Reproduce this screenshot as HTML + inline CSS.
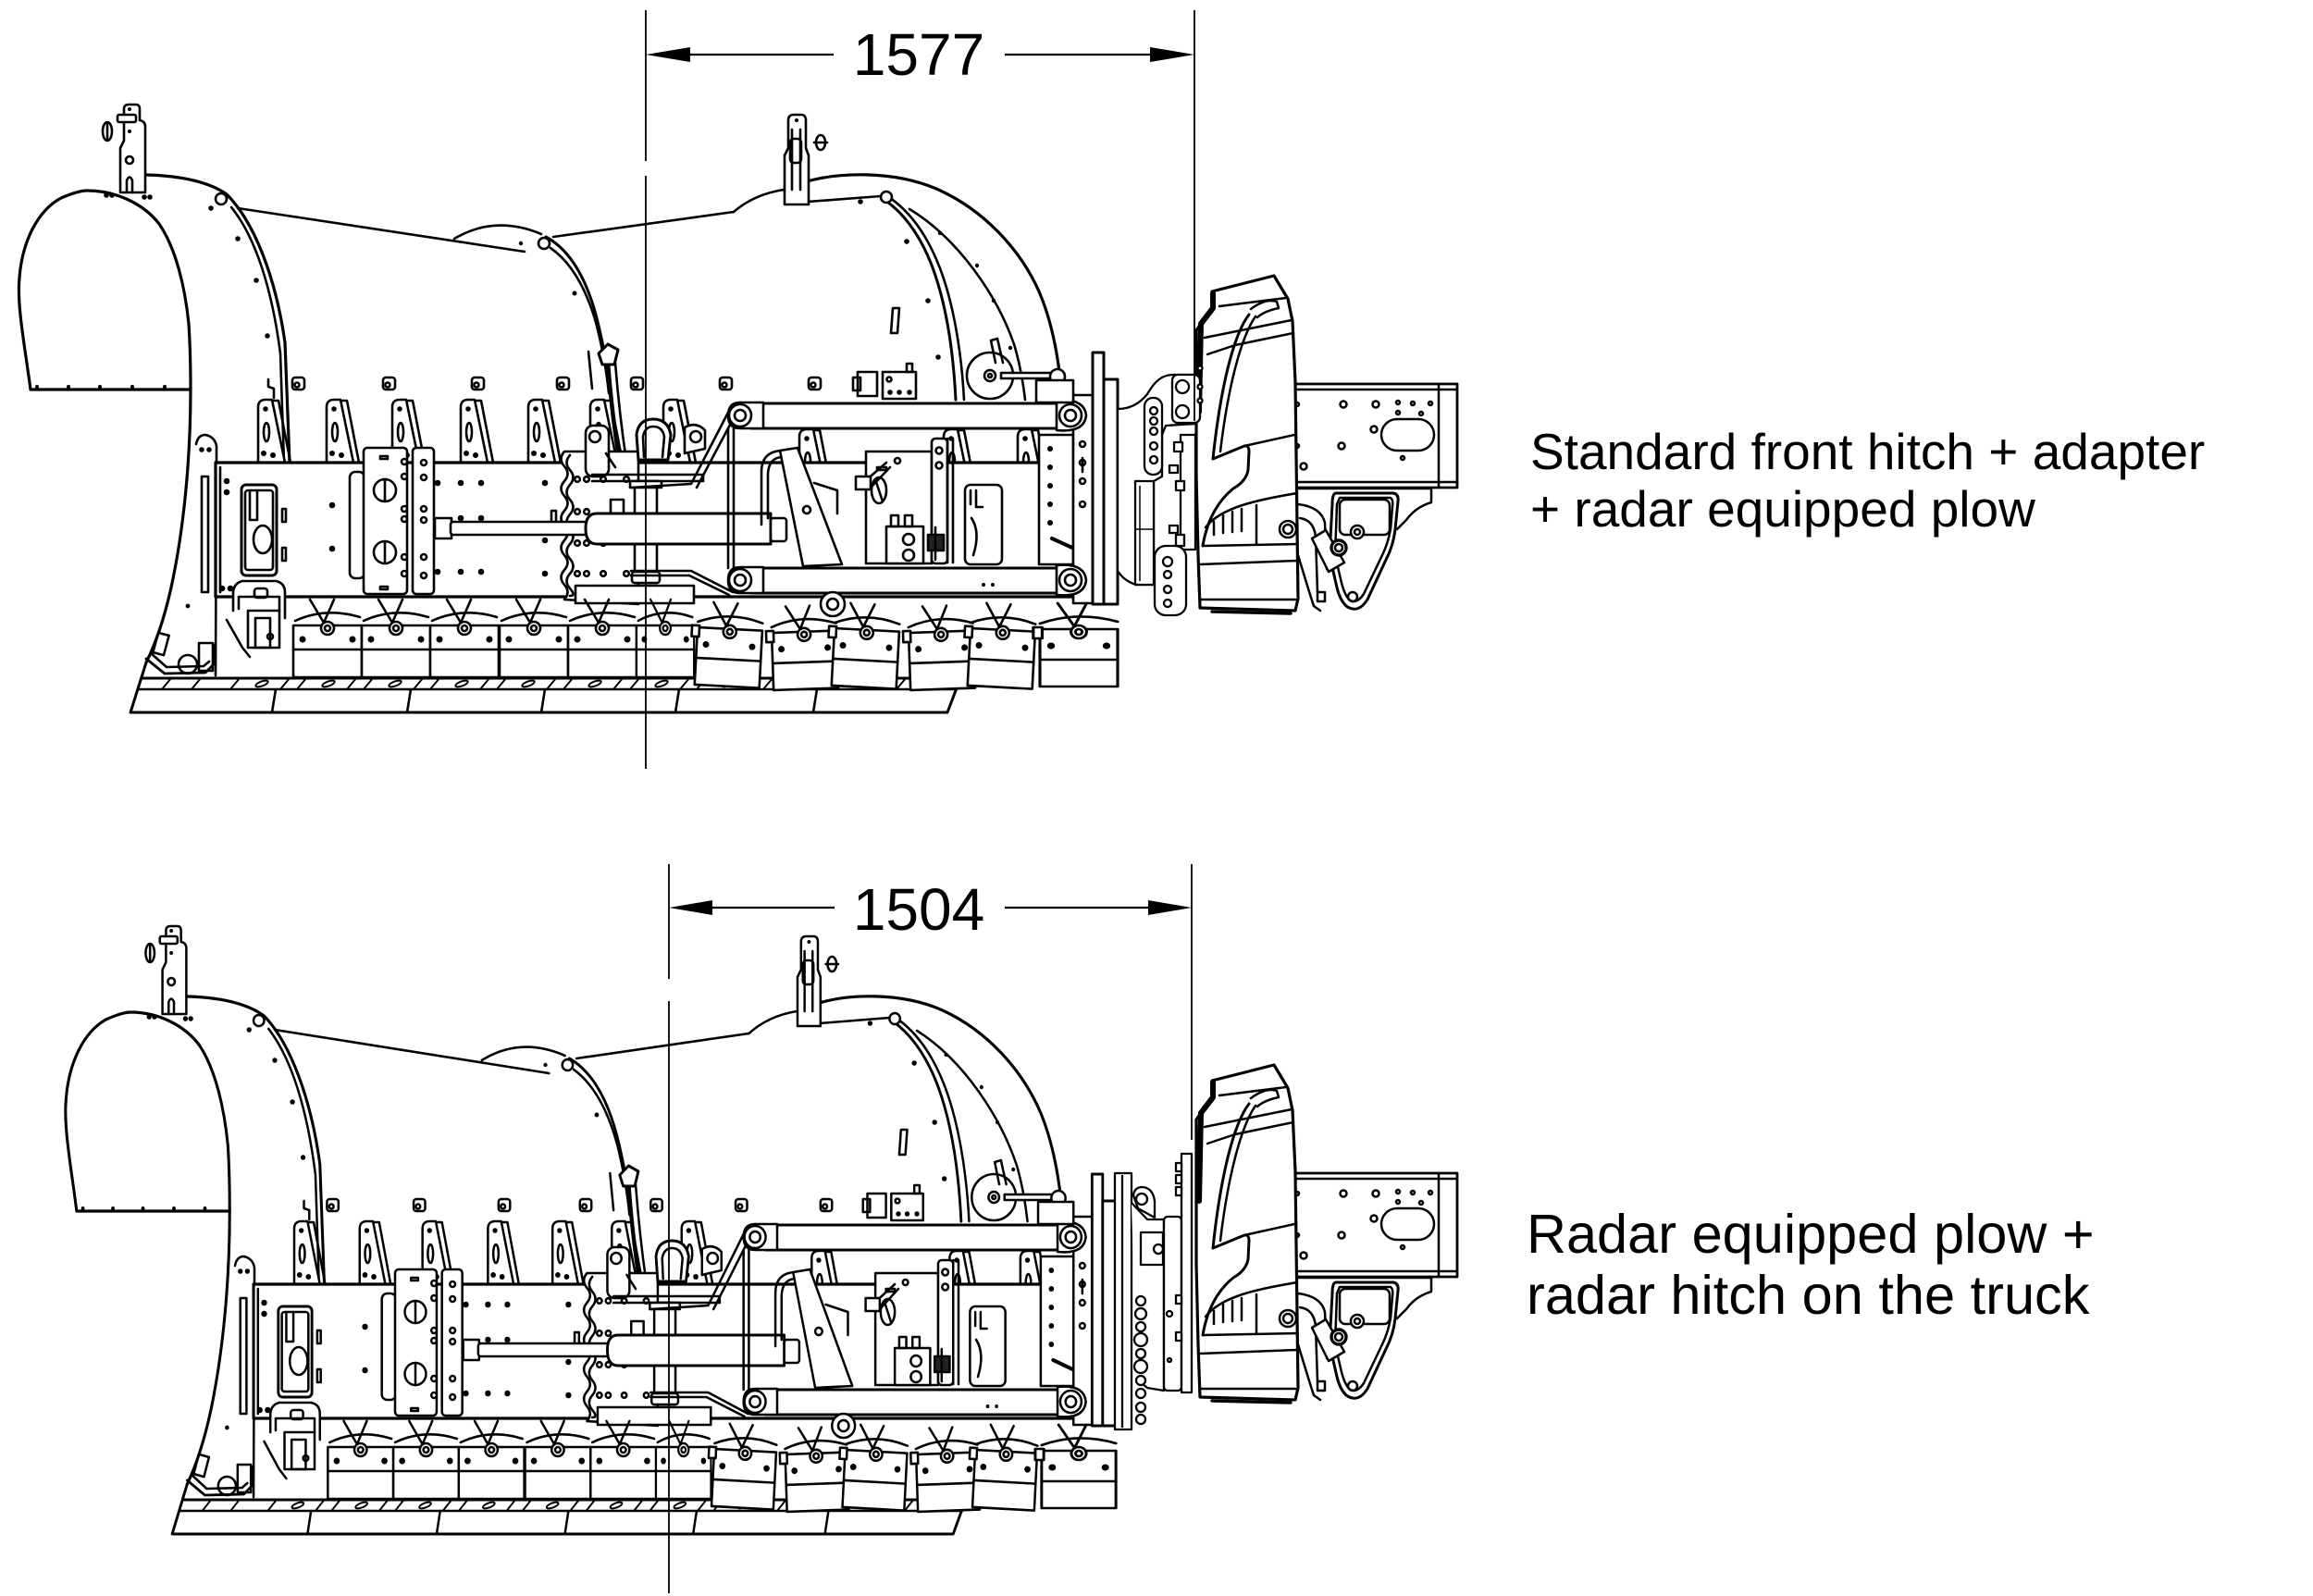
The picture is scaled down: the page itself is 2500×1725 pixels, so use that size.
<!DOCTYPE html>
<html><head><meta charset="utf-8"><style>
html,body{margin:0;padding:0;background:#fff;}
body{width:2500px;height:1725px;overflow:hidden;}
svg{display:block;}
</style></head><body>
<svg width="2500" height="1725" viewBox="0 0 2500 1725" xmlns="http://www.w3.org/2000/svg">
<rect width="2500" height="1725" fill="#fff"/>
<defs>
<g id="gus">
 <path d="M0,68 L0,8 Q0,0 8,0 L15,0 L29,68" fill="#fff"/>
 <path d="M17,1 L22,1 L35,68"/>
 <ellipse cx="9" cy="35" rx="3" ry="10"/>
 <circle cx="8" cy="10" r="2.8" fill="#000" stroke="none"/>
 <circle cx="6" cy="58" r="3" fill="#000" stroke="none"/>
 <circle cx="16" cy="60" r="3" fill="#000" stroke="none"/>
</g>
<g id="tab">
 <rect x="0" y="0" width="13" height="13" rx="3" fill="#fff"/>
 <circle cx="5" cy="8" r="2.5"/>
</g>
<g id="shoe">
 <path d="M18,-28 L33,-3 L44,-28"/>
 <path d="M2,-5 Q35,-20 72,-9"/>
 <rect x="0" y="0" width="74" height="56" fill="#fff"/>
 <line x1="0" y1="26" x2="74" y2="26"/>
 <circle cx="37" cy="3" r="7" fill="#fff"/>
 <circle cx="37" cy="3" r="3"/>
 <circle cx="10" cy="15" r="3.5" fill="#000" stroke="none"/>
 <circle cx="64" cy="15" r="3.5" fill="#000" stroke="none"/>
</g>
<g id="shoeT">
 <path d="M16,-28 L31,-3 L42,-28"/>
 <path d="M0,-6 Q34,-20 70,-8"/>
 <rect x="0" y="0" width="70" height="62" fill="#fff"/>
 <line x1="0" y1="33" x2="70" y2="33"/>
 <rect x="-6" y="-2" width="8" height="12" fill="#fff"/>
 <circle cx="35" cy="3" r="7" fill="#fff"/>
 <circle cx="35" cy="3" r="3"/>
 <circle cx="10" cy="18" r="3.5" fill="#000" stroke="none"/>
 <circle cx="60" cy="18" r="3.5" fill="#000" stroke="none"/>
</g>

<g id="plow" fill="none" stroke="#000" stroke-width="2.6" stroke-linejoin="round" stroke-linecap="round">
 <!-- right shell back arcs -->
 <path d="M869,197 C905,186 965,184 1012,204 C1062,226 1102,268 1123,315 C1138,350 1145,390 1148,432" stroke-width="3.2"/>
 <path d="M983,226 C1036,258 1078,320 1096,372 C1103,395 1106,415 1108,432"/>
 <path d="M953,214 C975,228 993,252 1006,284 C1021,322 1030,372 1033,432" stroke-width="3"/>
 <path d="M962,214 C985,230 1003,256 1016,290 C1030,327 1039,377 1042,432"/>
 <path d="M873,218 L952,212"/>
 <circle cx="958" cy="213" r="6" fill="#fff"/>
 <g fill="#000" stroke="none">
  <circle cx="930" cy="218" r="2.8"/><circle cx="980" cy="261" r="2.8"/><circle cx="1003" cy="325" r="2.8"/>
  <circle cx="1014" cy="386" r="2.8"/><circle cx="1016" cy="252" r="2.2"/><circle cx="1056" cy="287" r="2.2"/>
  <circle cx="1074" cy="325" r="2.2"/><circle cx="1092" cy="376" r="2.2"/>
 </g>
 <!-- top edges & humps -->
 <path d="M257,225 L567,272"/>
 <path d="M598,256 L793,229"/>
 <path d="M793,229 Q815,210 847,205"/>
 <path d="M491,258 Q535,232 585,253"/>
 <!-- middle rib -->
 <path d="M590,256 C616,270 633,300 644,340 C654,378 659,412 662,440" stroke-width="3"/>
 <path d="M595,268 C618,284 634,312 645,352 C652,380 656,405 658,425"/>
 <circle cx="588" cy="263" r="6" fill="#fff"/>
 <circle cx="563" cy="263" r="2.2" fill="#000" stroke="none"/>
 <circle cx="621" cy="317" r="2.5" fill="#000" stroke="none"/>
 <path d="M636,380 L640,420"/>
 <path d="M657,392 C660,430 664,465 670,500" stroke-width="4.5"/>
 <path d="M665,392 C668,430 672,465 677,498"/>
 <path d="M647,382 L657,372 L668,378 L664,394 L651,394 Z" fill="#fff" stroke-width="3"/>
 <!-- left shell rib -->
 <path d="M158,189 C195,190 225,196 245,210 C275,240 298,300 308,370 L313,500" stroke-width="3.2"/>
 <path d="M250,224 C276,256 294,312 303,382 L307,500"/>
 <circle cx="239" cy="215" r="6" fill="#fff"/>
 <g fill="#000" stroke="none">
  <circle cx="228" cy="225" r="2.8"/><circle cx="257" cy="258" r="2.8"/><circle cx="277" cy="303" r="2.8"/><circle cx="289" cy="363" r="2.8"/>
 </g>
 <path d="M290,410 L290,418 L296,420 L296,430"/>
 <!-- cap -->
 <path d="M33,421 C27,375 18,330 21,300 C24,262 40,228 66,214 C80,208 88,206 94,206 C125,206 155,220 172,242 C190,268 200,310 204,350 C206,380 206,405 206,421 Z" fill="#fff" stroke-width="3.2"/>
 <g fill="#000" stroke="none">
  <circle cx="40" cy="418" r="2"/><circle cx="74" cy="418" r="2"/><circle cx="108" cy="418" r="2"/><circle cx="143" cy="418" r="2"/><circle cx="178" cy="418" r="2"/>
 </g>
 <!-- left hitch -->
 <path d="M130,208 L130,160 L134,152 L134,118 Q134,113 139,113 L147,113 Q151,113 151,118 L151,130 Q157,131 157,137 L157,208 Z" fill="#fff"/>
 <path d="M137,208 L137,195 Q140,188 143,195 L143,208"/>
 <circle cx="140" cy="173" r="4"/>
 <rect x="127" y="124" width="20" height="8" rx="2" fill="#fff"/>
 <circle cx="140" cy="118" r="2" fill="#000" stroke="none"/><circle cx="140" cy="142" r="2" fill="#000" stroke="none"/>
 <ellipse cx="116" cy="142" rx="5" ry="10"/><line x1="116" y1="134" x2="116" y2="150"/>
 <g fill="#000" stroke="none"><circle cx="115" cy="211" r="2.8"/><circle cx="121" cy="211" r="2.8"/><circle cx="156" cy="213" r="2.8"/><circle cx="162" cy="213" r="2.8"/></g>
 <!-- right hitch -->
 <path d="M848,221 L848,168 L852,160 L852,130 Q852,124 858,124 L866,124 Q871,124 871,130 L871,160 L874,168 L874,221 Z" fill="#fff"/>
 <path d="M856,140 L856,205 M865,140 L865,205"/>
 <rect x="854" y="150" width="12" height="26" rx="4"/>
 <circle cx="861" cy="130" r="2" fill="#000" stroke="none"/>
 <ellipse cx="887" cy="154" rx="5" ry="8"/><line x1="880" y1="154" x2="894" y2="154"/>
 <!-- small tabs -->
 <use href="#tab" x="316" y="408"/><use href="#tab" x="414" y="408"/><use href="#tab" x="510" y="408"/>
 <use href="#tab" x="602" y="408"/><use href="#tab" x="682" y="408"/><use href="#tab" x="778" y="408"/><use href="#tab" x="874" y="408"/>
 <!-- gussets -->
 <use href="#gus" x="279" y="432"/><use href="#gus" x="353" y="432"/><use href="#gus" x="424" y="432"/>
 <use href="#gus" x="498" y="432"/><use href="#gus" x="571" y="432"/><use href="#gus" x="638" y="432"/><use href="#gus" x="717" y="432"/>
 <use href="#gus" x="864" y="464"/><use href="#gus" x="1020" y="464"/><use href="#gus" x="1100" y="464"/>
 <!-- end plate -->
 <path d="M212,480 Q214,470 222,470 Q232,472 234,482 L234,500 L233,730" fill="#fff"/>
 <path d="M206,421 C206,500 198,575 185,635 C176,675 166,700 158,716" stroke-width="3.2"/>
 <rect x="218" y="515" width="7" height="125"/>
 <g fill="#000" stroke="none"><circle cx="218" cy="486" r="2.8"/><circle cx="226" cy="486" r="2.8"/><circle cx="203" cy="655" r="2.4"/></g>
 <!-- main box -->
 <rect x="233" y="500" width="935" height="145" fill="#fff" stroke-width="3.2"/>
 <line x1="238" y1="505" x2="238" y2="640"/>
 <g fill="#000" stroke="none">
  <circle cx="245" cy="520" r="3.3"/><circle cx="245" cy="532" r="3.3"/><circle cx="359" cy="546" r="3.3"/><circle cx="359" cy="593" r="3.3"/>
  <circle cx="473" cy="522" r="3.3"/><circle cx="498" cy="522" r="3.3"/><circle cx="520" cy="522" r="3.3"/>
  <circle cx="498" cy="560" r="3.3"/><circle cx="520" cy="560" r="3.3"/>
  <circle cx="473" cy="618" r="3.3"/><circle cx="498" cy="618" r="3.3"/><circle cx="520" cy="618" r="3.3"/>
  <circle cx="589" cy="522" r="3.3"/><circle cx="589" cy="584" r="3.3"/><circle cx="589" cy="620" r="3.3"/>
  <circle cx="240" cy="636" r="3.3"/><circle cx="249" cy="636" r="3.3"/>
 </g>
 <!-- left panel -->
 <rect x="261" y="524" width="38" height="98" rx="5" fill="#fff" stroke-width="3"/>
 <rect x="265" y="530" width="30" height="86" rx="3"/>
 <path d="M270,532 L270,562 L278,562 L278,532"/>
 <ellipse cx="284" cy="583" rx="10" ry="15"/>
 <rect x="305" y="550" width="4" height="14"/><rect x="305" y="592" width="4" height="14"/>
 <!-- middle plate -->
 <rect x="378" y="510" width="16" height="115" rx="6" fill="#fff"/>
 <rect x="393" y="484" width="47" height="158" rx="4" fill="#fff"/>
 <rect x="446" y="484" width="23" height="158" rx="4" fill="#fff"/>
 <circle cx="416" cy="530" r="12"/><line x1="416" y1="518" x2="416" y2="542"/>
 <circle cx="416" cy="597" r="12"/><line x1="416" y1="585" x2="416" y2="609"/>
 <rect x="411" y="493" width="8" height="3"/><rect x="411" y="634" width="8" height="3"/>
 <g fill="#fff">
  <circle cx="437" cy="499" r="3"/><circle cx="437" cy="515" r="3"/><circle cx="437" cy="550" r="3"/><circle cx="437" cy="561" r="3"/>
  <circle cx="437" cy="602" r="3"/><circle cx="437" cy="620" r="3"/>
  <circle cx="458" cy="500" r="3"/><circle cx="458" cy="516" r="3"/><circle cx="458" cy="550" r="3"/><circle cx="458" cy="562" r="3"/>
  <circle cx="458" cy="602" r="3"/><circle cx="458" cy="622" r="3"/>
 </g>
 <!-- wavy plate -->
 <path d="M610,488 q-7,8 0,16 q7,8 0,16 q-7,8 0,16 q7,8 0,16 q-7,8 0,16 q7,8 0,16 q-7,8 0,16 q7,8 0,16 q-7,8 0,16 q7,8 0,16 L690,653 L690,488 Z" fill="#fff"/>
 <path d="M616,492 q-7,8 0,16 q7,8 0,16 q-7,8 0,16 q7,8 0,16 q-7,8 0,16 q7,8 0,16 q-7,8 0,16 q7,8 0,16 q-7,8 0,16 q7,8 0,8"/>
 <g fill="#fff">
  <circle cx="624" cy="518" r="2.8"/><circle cx="634" cy="518" r="2.8"/><circle cx="652" cy="518" r="2.8"/><circle cx="677" cy="518" r="2.8"/>
  <circle cx="624" cy="553" r="2.8"/><circle cx="634" cy="553" r="2.8"/>
  <circle cx="624" cy="587" r="2.8"/><circle cx="634" cy="587" r="2.8"/><circle cx="652" cy="587" r="2.8"/>
  <circle cx="624" cy="620" r="2.8"/><circle cx="634" cy="620" r="2.8"/><circle cx="652" cy="620" r="2.8"/><circle cx="677" cy="620" r="2.8"/>
 </g>
 <rect x="596" y="552" width="5" height="16"/>
 <!-- mushroom hitch & ears -->
 <rect x="633" y="460" width="25" height="55" rx="8" fill="#fff"/><circle cx="643" cy="472" r="6"/>
 <path d="M690,497 L688,470 Q690,453 706,453 Q722,453 725,470 L722,497 Z" fill="#fff" stroke-width="3"/>
 <path d="M696,494 L695,472 Q697,461 706,461 Q716,461 718,472 L716,494"/>
 <path d="M740,462 Q752,455 762,465 L762,485 L740,490 Z" fill="#fff"/><circle cx="752" cy="472" r="6"/>
 <path d="M655,490 L665,505"/>
 <path d="M640,513 L760,513 L760,520 L640,520"/>
 <!-- pin, rod, cylinder -->
 <rect x="686" y="520" width="24" height="110" fill="#fff"/>
 <rect x="681" y="520" width="34" height="7" fill="#fff"/>
 <rect x="470" y="560" width="18" height="22" fill="#fff"/>
 <rect x="487" y="564" width="156" height="14" rx="3" fill="#fff"/>
 <path d="M645,555 L833,555 L833,588 L645,588 Q633,588 633,571 Q633,555 645,555 Z" fill="#fff" stroke-width="3"/>
 <rect x="833" y="560" width="17" height="25" rx="3" fill="#fff"/>
 <rect x="683" y="618" width="30" height="12" rx="3" fill="#fff"/>
 <rect x="622" y="633" width="128" height="19" fill="#fff"/>
 <rect x="660" y="540" width="14" height="15"/>
 <!-- A-frame links -->
 <path d="M790,440 L747,523 L682,527"/>
 <path d="M797,444 L753,527"/>
 <path d="M682,617 L747,617 L792,640"/>
 <path d="M682,622 L745,622 L788,643"/>
 <line x1="787" y1="463" x2="787" y2="614"/><line x1="793" y1="463" x2="793" y2="614"/>
 <!-- components between arms -->
 <rect x="936" y="488" width="71" height="121" fill="#fff"/>
 <ellipse cx="950" cy="530" rx="8" ry="14"/><line x1="946" y1="518" x2="954" y2="542"/>
 <circle cx="970" cy="498" r="3"/><rect x="948" y="505" width="10" height="3"/>
 <rect x="1007" y="474" width="17" height="135" rx="4" fill="#fff"/>
 <circle cx="1015" cy="487" r="3.5"/><circle cx="1015" cy="503" r="3.5"/>
 <rect x="1043" y="524" width="40" height="86" rx="6" fill="#fff"/>
 <path d="M1049,530 L1049,545 M1055,530 L1055,548 L1062,548"/>
 <path d="M1050,560 Q1060,575 1052,600"/>
 <rect x="958" y="569" width="40" height="40" fill="#fff"/>
 <circle cx="982" cy="583" r="6"/><circle cx="982" cy="600" r="6"/>
 <rect x="963" y="557" width="8" height="12"/><rect x="978" y="557" width="8" height="12"/>
 <rect x="1003" y="578" width="17" height="17" fill="#222"/>
 <line x1="1011" y1="570" x2="1011" y2="605"/>
 <path d="M935,520 L958,500 M940,528 L962,505"/>
 <rect x="925" y="515" width="16" height="14" fill="#fff"/>
 <path d="M1024,474 L1024,608 M1030,474 L1030,608"/>
 <rect x="1123" y="470" width="37" height="140" fill="#fff"/>
 <g fill="#000" stroke="none"><circle cx="1135" cy="485" r="3"/><circle cx="1135" cy="505" r="3"/><circle cx="1135" cy="525" r="3"/><circle cx="1135" cy="545" r="3"/><circle cx="1135" cy="565" r="3"/></g>
 <line x1="1137" y1="582" x2="1159" y2="592" stroke-width="4"/>
 <path d="M823,567 L823,510 Q823,488 845,487"/>
 <path d="M830,560 L830,512 Q831,495 845,494"/>
 <polygon points="843,487 862,484 910,610 868,612" fill="#fff"/>
 <circle cx="872" cy="551" r="4"/>
 <path d="M880,522 L905,530 L905,555" />
 <!-- right vertical plates -->
 <rect x="1160" y="427" width="22" height="225" fill="#fff"/>
 <rect x="1181" y="381" width="12" height="272" fill="#fff" stroke-width="3"/>
 <rect x="1193" y="410" width="15" height="243" fill="#fff" stroke-width="3"/>
 <g fill="#fff"><circle cx="1170" cy="480" r="3"/><circle cx="1170" cy="500" r="3"/><circle cx="1170" cy="520" r="3"/><circle cx="1170" cy="545" r="3"/></g>
 <line x1="1170" y1="495" x2="1170" y2="510"/>
 <!-- A-frame arms -->
 <rect x="812" y="436" width="340" height="27" fill="#fff" stroke-width="3"/>
 <path d="M825,435 L800,435 Q787,435 787,449 Q787,463 800,463 L825,463 Z" fill="#fff"/>
 <circle cx="800" cy="449" r="12"/><circle cx="800" cy="449" r="6"/>
 <path d="M1142,433 Q1172,430 1174,449 Q1172,468 1142,465 Z" fill="#fff"/>
 <circle cx="1157" cy="449" r="12"/><circle cx="1157" cy="449" r="6"/>
 <rect x="812" y="614" width="340" height="27" fill="#fff" stroke-width="3"/>
 <path d="M825,613 L800,613 Q787,613 787,627 Q787,641 800,641 L825,641 Z" fill="#fff"/>
 <circle cx="800" cy="627" r="12"/><circle cx="800" cy="627" r="6"/>
 <path d="M1142,611 Q1172,608 1174,627 Q1172,646 1142,643 Z" fill="#fff"/>
 <circle cx="1157" cy="627" r="12"/><circle cx="1157" cy="627" r="6"/>
 <g fill="#000" stroke="none"><circle cx="1063" cy="632" r="2"/><circle cx="1073" cy="632" r="2"/></g>
 <!-- upper components -->
 <rect x="954" y="402" width="36" height="29" fill="#fff"/>
 <g fill="#000" stroke="none"><circle cx="962" cy="424" r="2.8"/><circle cx="972" cy="424" r="2.8"/><circle cx="983" cy="424" r="2.8"/></g>
 <circle cx="961" cy="410" r="2.5"/>
 <rect x="980" y="393" width="6" height="9"/>
 <path d="M927,402 L948,402 L948,428 L927,428 Z" fill="#fff"/><rect x="922" y="408" width="8" height="14"/>
 <circle cx="1070" cy="406" r="25" fill="#fff"/><circle cx="1070" cy="406" r="6"/><circle cx="1070" cy="406" r="2"/>
 <path d="M1076,392 L1071,368 L1078,366 L1084,392"/>
 <rect x="1082" y="403" width="55" height="6" fill="#fff"/>
 <circle cx="1143" cy="407" r="8" fill="#fff"/>
 <path d="M965,333 L972,333 L970,360 L963,360 Z" fill="#fff"/>
 <rect x="1120" y="411" width="40" height="24" fill="#fff"/>
 <!-- left lower bracket area -->
 <path d="M252,660 L252,640 Q253,630 262,628 L298,628 Q308,630 308,640 L308,668" fill="#fff"/>
 <path d="M258,658 L258,645 L302,645 L302,660"/>
 <rect x="275" y="636" width="14" height="10" rx="3"/>
 <rect x="268" y="660" width="34" height="40" fill="#fff"/><rect x="276" y="668" width="16" height="32"/>
 <path d="M245,670 L262,700 L270,710"/>
 <circle cx="292" cy="688" r="3"/>
 <circle cx="203" cy="718" r="10" fill="#fff"/>
 <path d="M158,712 L178,728 L222,727 L231,718 L231,697" fill="none" stroke-width="2.8"/>
 <path d="M163,706 L180,721 L220,720 L226,715"/>
 <rect x="168" y="685" width="12" height="22" transform="rotate(15 174 696)"/>
 <rect x="215" y="695" width="15" height="30"/>
 <!-- roller -->
 <circle cx="900" cy="653" r="13" fill="#fff"/><circle cx="900" cy="653" r="6"/>
 <!-- blade -->
 <path d="M158,716 L141,770 L1024,770 L1038,733 L154,733" fill="#fff" stroke-width="3"/>
 <line x1="150" y1="745" x2="1034" y2="745"/>
 <path d="M175,745 l10,-12 M207,745 l10,-12 M249,745 l10,-12 M303,745 l10,-12 M321,745 l10,-12 M375,745 l10,-12 M393,745 l10,-12 M447,745 l10,-12 M465,745 l10,-12 M519,745 l10,-12 M537,745 l10,-12 M591,745 l10,-12 M609,745 l10,-12 M663,745 l10,-12 M681,745 l10,-12 M735,745 l10,-12 M753,745 l10,-12 M807,745 l10,-12 M825,745 l10,-12 M879,745 l10,-12 M897,745 l10,-12 M951,745 l10,-12 M969,745 l10,-12" stroke-width="2"/>
 <g stroke-width="2">
  <ellipse cx="283" cy="739" rx="7" ry="2.5" transform="rotate(-20 283 739)"/>
  <ellipse cx="355" cy="739" rx="7" ry="2.5" transform="rotate(-20 355 739)"/>
  <ellipse cx="427" cy="739" rx="7" ry="2.5" transform="rotate(-20 427 739)"/>
  <ellipse cx="499" cy="739" rx="7" ry="2.5" transform="rotate(-20 499 739)"/>
  <ellipse cx="571" cy="739" rx="7" ry="2.5" transform="rotate(-20 571 739)"/>
  <ellipse cx="643" cy="739" rx="7" ry="2.5" transform="rotate(-20 643 739)"/>
  <ellipse cx="715" cy="739" rx="7" ry="2.5" transform="rotate(-20 715 739)"/>
  <ellipse cx="787" cy="739" rx="7" ry="2.5" transform="rotate(-20 787 739)"/>
  <ellipse cx="859" cy="739" rx="7" ry="2.5" transform="rotate(-20 859 739)"/>
 </g>
 <path d="M298,745 L294,770 M444,745 L440,770 M589,745 L585,770 M734,745 L730,770 M883,745 L879,770"/>
 <!-- shoes -->
 <use href="#shoe" transform="translate(317,676)"/>
 <use href="#shoe" transform="translate(391,676)"/>
 <use href="#shoe" transform="translate(465,676)"/>
 <use href="#shoe" transform="translate(540,676)"/>
 <use href="#shoe" transform="translate(614,676)"/>
 <use href="#shoe" transform="translate(688,676) scale(0.84,1)"/>
 <use href="#shoeT" transform="translate(754,678) rotate(3)"/>
 <use href="#shoeT" transform="translate(834,684) rotate(-2)"/>
 <use href="#shoeT" transform="translate(902,679) rotate(3)"/>
 <use href="#shoeT" transform="translate(982,684) rotate(-2)"/>
 <use href="#shoeT" transform="translate(1049,679) rotate(3)"/>
 <use href="#shoeT" transform="translate(1124,680) scale(1.2,1)"/>
</g>

<g id="truck" fill="none" stroke="#000" stroke-width="2.5" stroke-linejoin="round" stroke-linecap="round">
 <!-- frame rail -->
 <rect x="1400" y="415" width="175" height="112" fill="#fff" stroke-width="2.8"/>
 <line x1="1400" y1="421" x2="1575" y2="421"/>
 <line x1="1400" y1="521" x2="1575" y2="521"/>
 <line x1="1555" y1="415" x2="1555" y2="527"/>
 <rect x="1493" y="453" width="57" height="34" rx="17"/>
 <circle cx="1452" cy="437" r="3.5"/><circle cx="1487" cy="437" r="3.5"/>
 <circle cx="1511" cy="435" r="2"/><circle cx="1527" cy="436" r="2"/><circle cx="1546" cy="436" r="2"/>
 <circle cx="1511" cy="446" r="2"/><circle cx="1536" cy="447" r="2"/>
 <circle cx="1485" cy="464" r="3.5"/><circle cx="1450" cy="482" r="3.5"/><circle cx="1409" cy="504" r="3.5"/>
 <circle cx="1516" cy="495" r="2"/><circle cx="1402" cy="437" r="2"/><circle cx="1402" cy="482" r="2"/>
 <!-- under frame -->
 <path d="M1403,528 L1547,528 L1547,543 Q1530,548 1520,562 L1510,572" fill="#fff"/>
 <path d="M1403,545 Q1428,548 1432,565 L1434,615"/>
 <path d="M1405,560 Q1420,562 1422,580 L1424,640"/>
 <path d="M1444,533 L1506,533 Q1512,534 1511,542 L1508,572 Q1506,590 1498,605 L1478,648 Q1468,664 1455,655 Q1448,648 1445,635 L1437,600 L1440,545 Q1440,533 1444,533 Z" fill="#fff" stroke-width="3"/>
 <path d="M1448,538 L1503,538 Q1506,540 1505,548 L1503,572 Q1500,588 1494,600 L1474,642 Q1466,654 1458,648 Q1453,642 1450,630 L1443,600 L1445,545 Z"/>
 <rect x="1448" y="540" width="54" height="38" rx="6"/>
 <circle cx="1467" cy="575" r="7" fill="#fff"/><circle cx="1467" cy="575" r="3"/>
 <circle cx="1462" cy="645" r="5"/>
 <path d="M1418,582 L1433,573 L1453,608 L1436,618 Z" fill="#fff"/>
 <circle cx="1447" cy="592" r="8" fill="#fff" stroke-width="3.4"/><circle cx="1447" cy="592" r="4"/>
 <!-- bumper -->
 <path d="M1310,315 L1377,298 L1392,323 L1397,347 L1400,413 L1403,647 L1400,660 L1297,657 L1295,600 L1293,513 L1293,357 L1310,333 Z" fill="#fff" stroke-width="3.2"/>
 <path d="M1311,317 L1311,333 L1298,350 L1296,445" stroke-width="6"/>
 <path d="M1318,331 L1390,322"/>
 <path d="M1302,365 L1396,346"/>
 <path d="M1305,383 L1335,373 L1398,360"/>
 <path d="M1350,340 C1333,362 1319,420 1311,496 L1345,482 Q1350,481 1350,488 L1349,508 Q1347,520 1333,528 C1318,540 1305,560 1300,590" stroke-width="3"/>
 <path d="M1357,342 C1341,365 1327,420 1319,488"/>
 <path d="M1352,334 Q1368,322 1380,326 L1382,333 Q1367,336 1359,343"/>
 <path d="M1345,482 L1399,470"/>
 <path d="M1303,570 C1320,548 1360,540 1402,533"/>
 <path d="M1300,590 L1402,588"/>
 <path d="M1297,610 L1402,606"/>
 <path d="M1312,578 L1312,564 M1322,576 L1322,557 M1332,575 L1332,553 M1342,574 L1342,550"/>
 <line x1="1358" y1="546" x2="1358" y2="588"/>
 <circle cx="1392" cy="572" r="9"/><circle cx="1392" cy="572" r="5"/>
 <path d="M1298,648 L1400,648"/>
 <path d="M1310,661 L1395,663" stroke-width="3.4"/>
 <rect x="1424" y="640" width="8" height="10"/>
 <path d="M1403,600 Q1415,640 1420,655 L1427,660"/>
</g>
</defs>

<!-- plows & trucks -->
<use href="#plow"/>
<use href="#plow" transform="matrix(0.956 0 0 1 51.3 888)"/>
<use href="#truck"/>
<use href="#truck" transform="translate(0 853)"/>

<!-- adapter (top) -->
<g fill="#fff" stroke="#000" stroke-width="2.3" stroke-linejoin="round">
 <path d="M1208,442 C1222,442 1232,436 1240,426 C1248,412 1256,405 1268,405 L1293,405 L1293,458 L1260,460 L1256,470 L1256,515 L1247,520 L1247,632 L1228,632 Q1215,628 1208,617 Z"/>
 <rect x="1267" y="405" width="30" height="52" rx="6"/>
 <circle cx="1278" cy="418" r="7"/><circle cx="1278" cy="445" r="7"/>
 <rect x="1237" y="430" width="19" height="83" rx="9"/>
 <circle cx="1247" cy="444" r="4"/><circle cx="1247" cy="455" r="4"/><circle cx="1247" cy="466" r="4"/><circle cx="1247" cy="482" r="4"/><circle cx="1247" cy="497" r="4"/>
 <rect x="1227" y="520" width="20" height="112"/>
 <line x1="1232" y1="525" x2="1232" y2="628" stroke-width="1.5"/>
 <line x1="1227" y1="572" x2="1247" y2="572" stroke-width="1.5"/>
 <rect x="1276" y="470" width="16" height="124"/>
 <rect x="1269" y="478" width="9" height="10"/><rect x="1264" y="503" width="9" height="8"/><rect x="1271" y="520" width="9" height="10"/>
 <rect x="1264" y="568" width="9" height="8"/><rect x="1271" y="578" width="9" height="12"/>
 <rect x="1248" y="590" width="34" height="75" rx="12"/>
 <circle cx="1262" cy="607" r="5"/><circle cx="1262" cy="621" r="4"/><circle cx="1262" cy="637" r="4"/><circle cx="1262" cy="652" r="4"/>
 <circle cx="1297" cy="398" r="2.5"/><circle cx="1297" cy="418" r="2.5"/><circle cx="1297" cy="433" r="2.5"/>
</g>

<!-- radar hitch (bottom) -->
<g fill="#fff" stroke="#000" stroke-width="2.3" stroke-linejoin="round">
 <rect x="1205" y="1268" width="18" height="277"/>
 <line x1="1213" y1="1270" x2="1213" y2="1543"/>
 <path d="M1223,1300 L1240,1318 L1258,1318 L1258,1503 L1240,1500 L1228,1490"/>
 <rect x="1258" y="1315" width="19" height="188" rx="4"/>
 <rect x="1277" y="1247" width="11" height="258"/>
 <rect x="1271" y="1257" width="6" height="9"/><rect x="1271" y="1270" width="6" height="9"/><rect x="1271" y="1283" width="6" height="9"/>
 <rect x="1271" y="1400" width="6" height="9"/><rect x="1271" y="1440" width="6" height="9"/>
 <rect x="1233" y="1332" width="24" height="35"/>
 <circle cx="1252" cy="1350" r="5"/>
 <path d="M1225,1292 Q1226,1283 1235,1283 Q1246,1284 1248,1298 L1248,1316 L1230,1306 Z"/>
 <circle cx="1234" cy="1296" r="6"/>
 <circle cx="1233" cy="1406" r="5"/><circle cx="1233" cy="1420" r="6"/><circle cx="1233" cy="1434" r="5"/>
 <circle cx="1233" cy="1448" r="7"/><circle cx="1233" cy="1463" r="5"/><circle cx="1233" cy="1477" r="7"/>
 <circle cx="1233" cy="1492" r="5"/><circle cx="1233" cy="1506" r="5"/><circle cx="1233" cy="1521" r="5"/><circle cx="1233" cy="1534" r="5"/>
 <circle cx="1264" cy="1420" r="3"/><circle cx="1264" cy="1470" r="2"/>
</g>

<!-- dimensions -->
<g stroke="#000" fill="none">
 <line x1="698" y1="11" x2="698" y2="174" stroke-width="1.8"/>
 <line x1="698" y1="190" x2="698" y2="831" stroke-width="1.8"/>
 <line x1="1291" y1="11" x2="1291" y2="455" stroke-width="1.8"/>
 <line x1="720" y1="59" x2="901" y2="59" stroke-width="2.2"/>
 <line x1="1086" y1="59" x2="1270" y2="59" stroke-width="2.2"/>
 <line x1="723" y1="934" x2="723" y2="1058" stroke-width="1.8"/>
 <line x1="723" y1="1082" x2="723" y2="1722" stroke-width="1.8"/>
 <line x1="1288" y1="934" x2="1288" y2="1232" stroke-width="1.8"/>
 <line x1="745" y1="981" x2="902" y2="981" stroke-width="2.2"/>
 <line x1="1086" y1="981" x2="1266" y2="981" stroke-width="2.2"/>
</g>
<g fill="#000">
 <polygon points="698,59 746,51 746,67"/>
 <polygon points="1291,59 1243,51 1243,67"/>
 <polygon points="723,981 770,973 770,989"/>
 <polygon points="1288,981 1241,973 1241,989"/>
</g>
<g font-family="'Liberation Sans', Arial, sans-serif" fill="#000">
 <text x="993" y="81" font-size="64" text-anchor="middle">1577</text>
 <text x="993" y="1005" font-size="64" text-anchor="middle">1504</text>
 <text x="1654" y="507" font-size="55">Standard front hitch + adapter</text>
 <text x="1654" y="569" font-size="55">+ radar equipped plow</text>
 <text x="1650" y="1354" font-size="59.5">Radar equipped plow +</text>
 <text x="1650" y="1420" font-size="59.5">radar hitch on the truck</text>
</g>
</svg>
</body></html>
